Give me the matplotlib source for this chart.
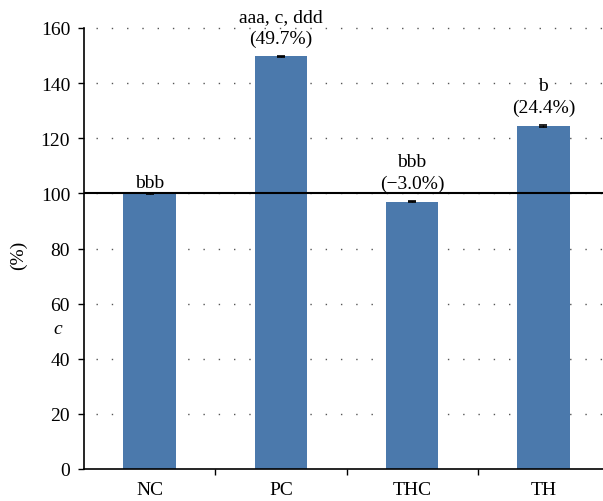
import matplotlib
matplotlib.use("Agg")
import matplotlib.pyplot as plt

categories = ["NC", "PC", "THC", "TH"]
values = [100.0, 149.7, 97.0, 124.4]
errors = [0.2, 0.3, 0.3, 0.3]
labels_top = ["bbb", "aaa, c, ddd", "bbb", "b"]
labels_pct = ["", "(49.7%)", "(\u22123.0%)", "(24.4%)"]
yticks = [0, 20, 40, 60, 80, 100, 120, 140, 160]

plt.rcParams['font.family'] = ['Liberation Serif', 'DejaVu Serif']
fs = 14
fig = plt.figure(figsize=(6.03, 5.02), dpi=100)
ax = fig.add_axes([84/603, 32/502, 525/603, 441/502])

x = list(range(len(categories)))
ax.bar(x, values, width=0.40, color='#4b79ac', zorder=2)
ax.errorbar(x, values, yerr=errors, fmt='none', ecolor='black', capsize=3, elinewidth=1, capthick=1.2, zorder=3)

ax.set_xlim(-0.5, 3.5)
ax.set_ylim(0, 160)
ax.set_yticks(yticks)
ax.set_yticklabels([str(t) for t in yticks], fontsize=fs)
ax.set_xticks([0.5, 1.5, 2.5])
ax.set_xticklabels([])
ax.set_xticks(x, minor=True)
ax.set_xticklabels(categories, minor=True, fontsize=fs)
ax.tick_params(axis='x', which='minor', length=0, pad=9)
ax.tick_params(axis='x', which='major', length=4, direction='out', width=1)
ax.tick_params(axis='y', length=4, direction='out', width=1, pad=6)

for t in yticks[1:]:
    ax.plot([-0.41, 3.5], [t, t], linestyle=(0, (1, 10)), color='#555555', lw=1, zorder=1, clip_on=False)
ax.axhline(100, color='black', lw=1.5, zorder=4, xmin=0, xmax=0.99)

for s in ['top', 'right']:
    ax.spines[s].set_visible(False)
ax.spines['left'].set_linewidth(1.2)
ax.spines['bottom'].set_linewidth(1.2)

fig.text(18/603, 1 - 255/502, "(%)", fontsize=fs, rotation=90, ha='center', va='center')
ax.text(-0.7, 51, "c", fontsize=fs, style='italic', ha='center', va='center', clip_on=False)

for i, (lt, lp) in enumerate(zip(labels_top, labels_pct)):
    if lp:
        ax.text(i, values[i] + 3.5, lp, ha='center', va='bottom', fontsize=fs)
        ax.text(i, values[i] + 11.5, lt, ha='center', va='bottom', fontsize=fs)
    else:
        ax.text(i, values[i] + 0.8, lt, ha='center', va='bottom', fontsize=fs)

fig.savefig("out.png", dpi=100)
